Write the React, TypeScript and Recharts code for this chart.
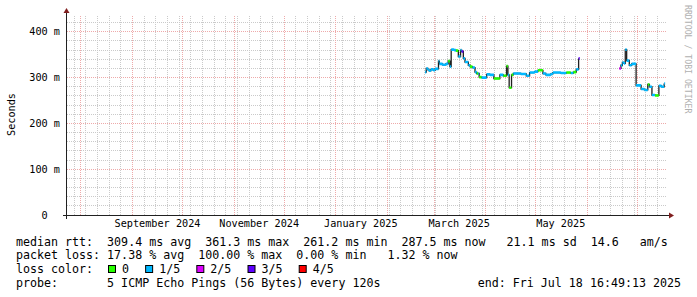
import React from 'react';
import { LineChart, Line, XAxis, YAxis, ReferenceLine } from 'recharts';

// ---------- data ----------
const endLabel = 'Fri Jul 18 16:49:13 2025';
const spanDays = 360;

const sampleTimes = [
  '2025-02-23 14', '2025-02-24 06', '2025-02-25 06', '2025-02-26 00', '2025-02-27 00', '2025-02-28 12',
  '2025-03-01 12', '2025-03-03 14', '2025-03-04 02', '2025-03-06 00', '2025-03-08 00', '2025-03-09 10',
  '2025-03-10 10', '2025-03-11 05', '2025-03-13 00', '2025-03-14 00', '2025-03-15 12', '2025-03-16 20',
  '2025-03-17 12', '2025-03-18 12', '2025-03-19 12', '2025-03-21 12', '2025-03-22 12', '2025-03-24 00',
  '2025-03-25 12', '2025-03-26 12', '2025-03-27 12', '2025-03-28 00', '2025-03-29 12', '2025-04-01 12',
  '2025-04-03 12', '2025-04-05 20', '2025-04-09 10', '2025-04-11 12', '2025-04-13 10', '2025-04-14 06',
  '2025-04-15 00', '2025-04-16 10', '2025-04-17 12', '2025-04-22 00', '2025-04-25 06', '2025-04-27 06',
  '2025-04-30 06', '2025-05-02 06', '2025-05-05 06', '2025-05-07 00', '2025-05-10 00', '2025-05-11 06',
  '2025-05-16 00', '2025-05-19 06', '2025-05-22 00', '2025-05-23 12', '2025-05-25 06', '2025-05-26 16',
  '2025-05-27 08',
  '2025-06-20 02', '2025-06-21 02', '2025-06-21 22', '2025-06-22 20', '2025-06-23 16', '2025-06-24 12',
  '2025-06-26 02', '2025-06-27 12', '2025-06-30 04', '2025-07-03 04', '2025-07-05 04', '2025-07-07 04',
  '2025-07-08 04', '2025-07-09 16', '2025-07-11 12', '2025-07-13 20', '2025-07-15 10', '2025-07-17 00',
  '2025-07-17 14',
];

// median RTT in ms (null = no data)
const medianRtt: (number | null)[] = [
  312, 320, 317, 315, 318, 316,
  319, 336, 330, 328, 330, 336,
  324, 361, 360, 359, 346, 360,
  357, 342, 334, 327, 324, 322,
  312, 309, 309, 301, 300, 307,
  306, 298, 306, 304, 325, 306,
  278, 306, 309, 308, 304, 311,
  313, 316, 309, 306, 308, 311,
  310, 311, 310, 312, 318, 342,
  null,
  320, 327, 333, 331, 361, 337,
  327, 330, 283, 275, 273, 285,
  280, 262, 261, 282, 280, 287,
  null,
];

// loss level index (0 = 0/5 ... 4 = 4/5)
const lossLevel: (number | null)[] = [
  1, 1, 1, 1, 1, 1,
  1, 1, 1, 1, 1, 0,
  1, 1, 1, 0, 1, 1,
  3, 1, 1, 1, 0, 1,
  1, 0, 1, 0, 1, 1,
  1, 0, 1, 0, 0, 1,
  0, 0, 1, 1, 1, 1,
  1, 0, 1, 1, 1, 1,
  1, 0, 1, 0, 1, 3,
  null,
  2, 1, 1, 1, 1, 1,
  1, 1, 1, 1, 1, 0,
  1, 1, 0, 1, 1, 1,
  null,
];

const lossLabels = ['0', '1/5', '2/5', '3/5', '4/5'];
const lossColors = ['#26ff00', '#00b8ff', '#dd00ff', '#5e00ff', '#ff0000'];

const xTickMonths = ['2024-09', '2024-11', '2025-01', '2025-03', '2025-05'];
const xTickLabels = ['September 2024', 'November 2024', 'January 2025', 'March 2025', 'May 2025'];
const yTicks = [0, 100, 200, 300, 400];
const yMax = 436.7;

const statLines = [
  'median rtt:  309.4 ms avg  361.3 ms max  261.2 ms min  287.5 ms now   21.1 ms sd  14.6   am/s',
  'packet loss: 17.38 % avg  100.00 % max  0.00 % min   1.32 % now',
];
const lossTitle = 'loss color:';
const probeText = 'probe:       5 ICMP Echo Pings (56 Bytes) every 120s';
const endText = 'end: ' + endLabel;
const unitLabel = 'Seconds';
const watermark = 'RRDTOOL / TOBI OETIKER';

// ---------- helpers ----------
const DAY = 86400000;
const toMs = (s: string) => {
  const [d, h] = s.split(' ');
  const [y, m, dd] = d.split('-').map(Number);
  return Date.UTC(y, m - 1, dd, Number(h || 0));
};
const endTime = Date.UTC(2025, 6, 18, 16, 49, 13);
const startTime = endTime - spanDays * DAY;

const monthStarts: number[] = [];
for (let m = 0; ; m++) {
  const t = Date.UTC(2024, m, 1);
  if (t > endTime) break;
  if (t >= startTime) monthStarts.push(t);
}
const weekLines: number[] = [];
{
  let t = Date.UTC(2024, 6, 28); // a Sunday
  while (t < startTime) t += 7 * DAY;
  for (; t <= endTime; t += 7 * DAY) weekLines.push(t);
}
const xTicks = xTickMonths.map((s) => toMs(s + '-01') + 15 * DAY);
const minorY: number[] = [];
for (let v = 20; v < yMax; v += 20) if (v % 100 !== 0) minorY.push(v);
const majorY = yTicks.filter((v) => v > 0);

// ---------- layout ----------
const W = 697;
const H = 297;
const PL = 67;
const PR = 667;
const PT = 15;
const PB = 215;
const MONO = '"DejaVu Sans Mono", monospace';
const AX_FS = 10.2;
const LG_FS = 11.65;
const CH = 7.03;
const GRID_MINOR = '#cacaca';
const GRID_MAJOR = '#eeaaaa';

export default function App() {
  const rows = sampleTimes.map((s, i) => ({ t: toMs(s), rtt: medianRtt[i] }));
  const bands = lossColors.map((color, level) => {
    const pts: { t: number; v: number | null }[] = [];
    for (let i = 0; i < rows.length - 1; i++) {
      const v = rows[i].rtt;
      if (lossLevel[i] !== level || v == null) continue;
      pts.push({ t: rows[i].t, v }, { t: rows[i + 1].t, v }, { t: rows[i + 1].t, v: null });
    }
    return { color, pts, level };
  });

  const swatches: { x: number; label: string; color: string }[] = [];
  let sx = 108;
  lossLabels.forEach((label, i) => {
    swatches.push({ x: sx, label, color: lossColors[i] });
    sx += 15 + label.length * CH + 15.1;
  });

  const base = [245.5, 259.3, 273.1, 286.9];

  return (
    <div style={{ position: 'absolute', left: 0, top: 0, width: W, height: H, background: '#fff' }}>
      <style>{`.recharts-reference-line line { shape-rendering: crispEdges; }`}</style>
      <LineChart
        width={W}
        height={H}
        data={rows}
        margin={{ top: PT, right: W - PR, bottom: 62, left: 8 }}
      >
        <XAxis
          dataKey="t"
          type="number"
          domain={[startTime, endTime]}
          allowDataOverflow
          ticks={xTicks}
          interval={0}
          tickFormatter={(v: number) => xTickLabels[xTicks.indexOf(v)] ?? ''}
          axisLine={false}
          tickLine={false}
          tickSize={3}
          tickMargin={2}
          height={20}
          tick={{ fill: '#000', fontSize: AX_FS, fontFamily: MONO }}
        />
        <YAxis
          type="number"
          domain={[0, yMax]}
          allowDataOverflow
          ticks={yTicks}
          interval={0}
          width={59}
          axisLine={false}
          tickLine={false}
          tickSize={5}
          tickMargin={2}
          tickFormatter={(v: number) => (v === 0 ? '0\u00a0\u00a0' : `${v} m`)}
          tick={{ fill: '#000', fontSize: AX_FS, fontFamily: MONO }}
        />
        {minorY.map((v) => (
          <ReferenceLine key={'hy' + v} y={v} stroke={GRID_MINOR} strokeDasharray="1 1" strokeWidth={1} />
        ))}
        {weekLines.map((t) => (
          <ReferenceLine key={'wx' + t} x={t} stroke={GRID_MINOR} strokeDasharray="1 1" strokeWidth={1} />
        ))}
        {majorY.map((v) => (
          <ReferenceLine key={'my' + v} y={v} stroke={GRID_MAJOR} strokeDasharray="1 1" strokeWidth={1} />
        ))}
        {monthStarts.map((t) => (
          <ReferenceLine key={'mx' + t} x={t} stroke={GRID_MAJOR} strokeDasharray="1 1" strokeWidth={1} />
        ))}
        <Line
          dataKey="rtt"
          type="stepAfter"
          stroke="#202020"
          strokeWidth={1.3}
          dot={false}
          activeDot={false}
          connectNulls={false}
          isAnimationActive={false}
        />
        {bands.map((b) => (
          <Line
            key={b.level}
            data={b.pts}
            dataKey="v"
            type="linear"
            stroke={b.color}
            strokeWidth={2.6}
            dot={false}
            activeDot={false}
            connectNulls={false}
            isAnimationActive={false}
          />
        ))}
      </LineChart>

      <svg
        width={W}
        height={H}
        style={{ position: 'absolute', left: 0, top: 0, pointerEvents: 'none' }}
      >
        <line x1={PL - 4} y1={PB + 0.5} x2={PR + 4} y2={PB + 0.5} stroke="#202020" strokeWidth={1} />
        <line x1={PL - 0.5} y1={PB + 4} x2={PL - 0.5} y2={PT - 4} stroke="#202020" strokeWidth={1} />
        <polygon
          points={`${PR + 2},${PB + 0.5 - 3} ${PR + 2},${PB + 0.5 + 3} ${PR + 7},${PB + 0.5}`}
          fill="#801f1f"
        />
        <polygon
          points={`${PL - 0.5 - 3},${PT - 2} ${PL - 0.5 + 3},${PT - 2} ${PL - 0.5},${PT - 7}`}
          fill="#801f1f"
        />

        <text
          x={15}
          y={114.5}
          transform="rotate(-90 15 114.5)"
          textAnchor="middle"
          fontFamily={MONO}
          fontSize={AX_FS}
          fill="#000"
        >
          {unitLabel}
        </text>

        <text
          x={685}
          y={5}
          transform="rotate(90 685 5)"
          fontFamily={MONO}
          fontSize={8.2}
          fill="#b0b0b0"
          textAnchor="start"
        >
          {watermark}
        </text>

        {statLines.map((s, i) => (
          <text
            key={i}
            x={16}
            y={base[i]}
            fontFamily={MONO}
            fontSize={LG_FS}
            fill="#000"
            xmlSpace="preserve"
            style={{ whiteSpace: 'pre' }}
          >
            {s}
          </text>
        ))}
        <text x={16} y={base[2]} fontFamily={MONO} fontSize={LG_FS} fill="#000">
          {lossTitle}
        </text>
        {swatches.map((s) => (
          <g key={s.label}>
            <rect x={s.x + 0.5} y={265.5} width={7} height={7} fill={s.color} stroke="#000" strokeWidth={1} />
            <text x={s.x + 14} y={base[2]} fontFamily={MONO} fontSize={LG_FS} fill="#000">
              {s.label}
            </text>
          </g>
        ))}
        <text
          x={16}
          y={base[3]}
          fontFamily={MONO}
          fontSize={LG_FS}
          fill="#000"
          xmlSpace="preserve"
          style={{ whiteSpace: 'pre' }}
        >
          {probeText}
        </text>
        <text
          x={681}
          y={base[3]}
          textAnchor="end"
          fontFamily={MONO}
          fontSize={LG_FS}
          fill="#000"
          xmlSpace="preserve"
          style={{ whiteSpace: 'pre' }}
        >
          {endText}
        </text>
      </svg>
    </div>
  );
}
